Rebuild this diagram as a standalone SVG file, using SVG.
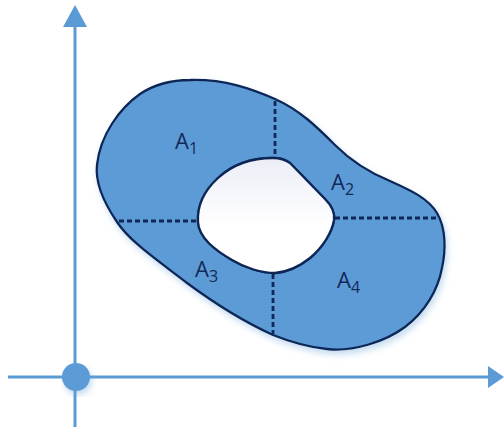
<svg xmlns="http://www.w3.org/2000/svg" width="504" height="427" viewBox="0 0 504 427">
<style>
.axis{stroke:#5B9BD5;stroke-width:3;fill:none}
.ah{fill:#5B9BD5}
.shape{fill:#5B9BD5;stroke:#0F2857;stroke-width:2.3;stroke-linejoin:round}
.dash{stroke:#0F2857;stroke-width:2.8;stroke-dasharray:5 3;fill:none}
.lbl{font-family:"Open Sans","Liberation Sans",sans-serif;font-size:22px;fill:#13295A}
.sub{font-size:16px}
</style>
<defs>
<filter id="sh" x="-10%" y="-10%" width="130%" height="130%">
<feGaussianBlur in="SourceAlpha" stdDeviation="3"/>
<feOffset dx="2" dy="4" result="b"/>
<feFlood flood-color="#5B9BD5" flood-opacity="0.35"/>
<feComposite in2="b" operator="in"/>
<feMerge><feMergeNode/><feMergeNode in="SourceGraphic"/></feMerge>
</filter>
<linearGradient id="hole" x1="0" y1="0" x2="0" y2="1">
<stop offset="0" stop-color="#ECEEF7"/>
<stop offset="0.6" stop-color="#FFFFFF"/>
</linearGradient>
</defs>
<g id="axes">
<line class="axis" x1="75" y1="22" x2="75" y2="427"/>
<polygon class="ah" points="75,5 63,27 87,27"/>
<line class="axis" x1="8" y1="377" x2="492" y2="377"/>
<polygon class="ah" points="504,377 488,366 488,388"/>
<circle id="origin" cx="76" cy="377" r="14" fill="#5B9BD5" filter="url(#sh)"/>
</g>
<g id="region" filter="url(#sh)">
<path class="shape" fill-rule="evenodd" d="M 190,80 C 225,79 252,89 275,99 C 300,110 318,128 335,145 C 352,162 368,172 390,181 C 410,190 428,198 437,213 C 446,228 446,250 442,268 C 438,290 425,312 405,327 C 385,342 352,352 327,349 C 305,347 288,341 273,335 C 240,320 210,300 187,283 C 160,262 130,242 117,222 C 102,200 95,182 97,165 C 100,135 120,108 140,94 C 155,84 172,80 190,80 Z M 273,158 C 280,158 286,160 290,163 L 325,199 C 332,206 335,212 334,220 C 332,233 322,248 310,258 C 300,266 288,272 275,273 C 262,273 245,268 232,260 C 215,250 199,238 198,222 C 197,205 205,190 218,178 C 232,165 250,158 273,158 Z"/>
<path d="M 273,158 C 280,158 286,160 290,163 L 325,199 C 332,206 335,212 334,220 C 332,233 322,248 310,258 C 300,266 288,272 275,273 C 262,273 245,268 232,260 C 215,250 199,238 198,222 C 197,205 205,190 218,178 C 232,165 250,158 273,158 Z" fill="url(#hole)" stroke="#0F2857" stroke-width="2.3"/>
</g>
<g id="dividers">
<line class="dash" x1="275" y1="101" x2="275" y2="157"/>
<line class="dash" x1="119" y1="221" x2="197" y2="221"/>
<line class="dash" x1="335" y1="218" x2="436" y2="218"/>
<line class="dash" x1="273" y1="274" x2="273" y2="334"/>
</g>
<g id="labels">
<text class="lbl" x="175" y="149">A<tspan class="sub" dy="5">1</tspan></text>
<text class="lbl" x="331" y="190">A<tspan class="sub" dy="5">2</tspan></text>
<text class="lbl" x="195" y="277">A<tspan class="sub" dy="5">3</tspan></text>
<text class="lbl" x="337" y="288">A<tspan class="sub" dy="5">4</tspan></text>
</g>
</svg>
